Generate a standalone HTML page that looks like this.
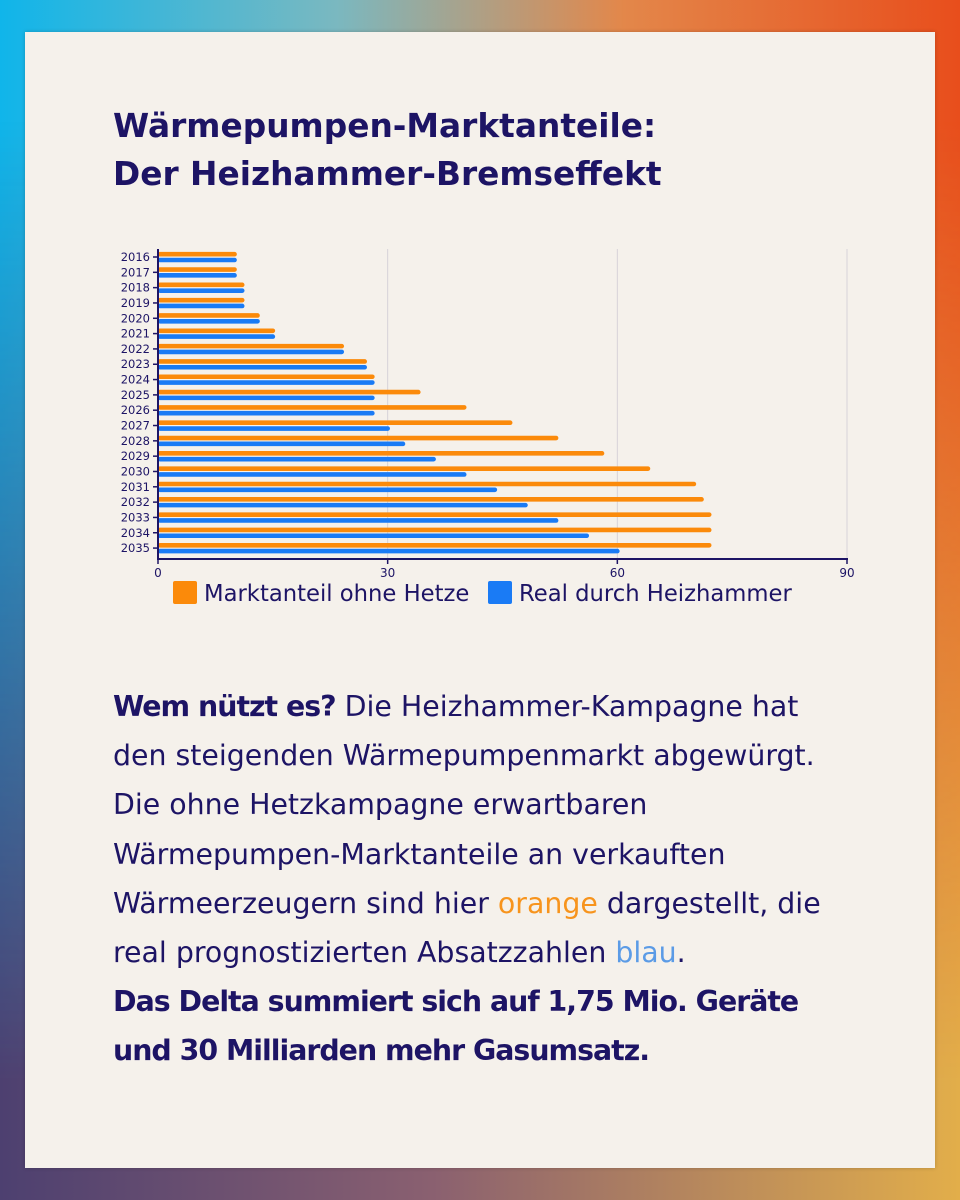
<!DOCTYPE html>
<html><head><meta charset="utf-8"><style>
html,body{margin:0;padding:0}
body{width:960px;height:1200px;position:relative;overflow:hidden;font-family:"Liberation Sans","DejaVu Sans",sans-serif;
background:linear-gradient(to right,#10b5ea 0%,#7ab8c0 35%,#e3874a 65%,#e84e1c 100%);}
#bot{position:absolute;inset:0;background:linear-gradient(to right,#4d4070 0%,#8a6070 45%,#e2ae4a 100%);
-webkit-mask-image:linear-gradient(to bottom,rgba(0,0,0,0) 10%,rgba(0,0,0,1) 90%);mask-image:linear-gradient(to bottom,rgba(0,0,0,0) 10%,rgba(0,0,0,1) 90%);}
#card{position:absolute;left:25px;top:32px;width:910px;height:1136px;background:#f5f1eb;box-shadow:0 0 4px rgba(0,0,0,.2)}
h1{position:absolute;left:88px;top:70px;margin:0;font-family:"DejaVu Sans",sans-serif;font-size:32.8px;line-height:48px;color:#1d1465;font-weight:bold;white-space:nowrap}
#body{position:absolute;left:88px;top:650px;font-family:"DejaVu Sans",sans-serif;font-size:28.4px;line-height:49.2px;color:#1d1465;white-space:nowrap}
#body b{letter-spacing:-1px}
svg{position:absolute;left:0;top:0}
</style></head><body>
<div id="bot"></div>
<div id="card">
<h1>Wärmepumpen-Marktanteile:<br>Der Heizhammer-Bremseffekt</h1>
<div id="body"><b>Wem nützt es?</b> Die Heizhammer-Kampagne hat<br>den steigenden Wärmepumpenmarkt abgewürgt.<br>Die ohne Hetzkampagne erwartbaren<br>Wärmepumpen-Marktanteile an verkauften<br>Wärmeerzeugern sind hier <span style="color:#f7941d">orange</span> dargestellt, die<br>real prognostizierten Absatzzahlen <span style="color:#5b9be6">blau</span>.<br><b>Das Delta summiert sich auf 1,75 Mio. Geräte<br>und 30 Milliarden mehr Gasumsatz.</b></div>
</div>
<svg id="chart" width="960" height="1200"></svg>
<script>
const years=[2016,2017,2018,2019,2020,2021,2022,2023,2024,2025,2026,2027,2028,2029,2030,2031,2032,2033,2034,2035];
const ohneHetze=[10,10,11,11,13,15,24,27,28,34,40,46,52,58,64,70,71,72,72,72];
const real=[10,10,11,11,13,15,24,27,28,28,28,30,32,36,40,44,48,52,56,60];
const xTicks=[0,30,60,90];
const svg=document.getElementById('chart');const NS='http://www.w3.org/2000/svg';
const x0=158,x1=847,xMax=90,yTop=257,yStep=15.32;
const X=v=>x0+v/xMax*(x1-x0);const Y=i=>yTop+i*yStep;
function mk(t,a){const e=document.createElementNS(NS,t);for(const k in a)e.setAttribute(k,a[k]);svg.appendChild(e);return e;}
xTicks.forEach(t=>{if(t>0){const g=mk('line',{x1:X(t),x2:X(t),y1:249,y2:559,stroke:'#d6d2d8','stroke-width':1});

}
const l=mk('text',{x:X(t),y:577,'text-anchor':'middle','font-size':12,fill:'#1d1465','font-family':'DejaVu Sans,sans-serif'});l.textContent=t;


const tk=mk('line',{x1:X(t),x2:X(t),y1:559,y2:564,stroke:'#1d1465','stroke-width':1.5});

});
years.forEach((yr,i)=>{const y=Y(i);
const o=mk('line',{x1:X(0)+2,x2:X(ohneHetze[i]),y1:y-2.8,y2:y-2.8,stroke:'#fb8a0a','stroke-width':4.6,'stroke-linecap':'round'});


const b=mk('line',{x1:X(0)+2,x2:X(real[i]),y1:y+3,y2:y+3,stroke:'#1a7bf5','stroke-width':4.6,'stroke-linecap':'round'});


const tk=mk('line',{x1:153,x2:158,y1:y,y2:y,stroke:'#1d1465','stroke-width':1.5});


const l=mk('text',{x:150,y:y+4,'text-anchor':'end','font-size':11.5,fill:'#1d1465','font-family':'DejaVu Sans,sans-serif'});l.textContent=yr;

});
const ya=mk('line',{x1:158,x2:158,y1:249,y2:560,stroke:'#1d1465','stroke-width':2});


const xa=mk('line',{x1:157,x2:848,y1:559,y2:559,stroke:'#1d1465','stroke-width':2});


const legend=[['Marktanteil ohne Hetze','#fb8a0a',173],['Real durch Heizhammer','#1a7bf5',488]];
legend.forEach(([t,c,lx])=>{const r=mk('rect',{x:lx,y:581,width:24,height:23,rx:2,fill:c});


const tx=mk('text',{x:lx+31,y:601,'font-size':22.7,fill:'#1d1465','font-family':'DejaVu Sans,sans-serif'});tx.textContent=t;

});
</script>
</body></html>
